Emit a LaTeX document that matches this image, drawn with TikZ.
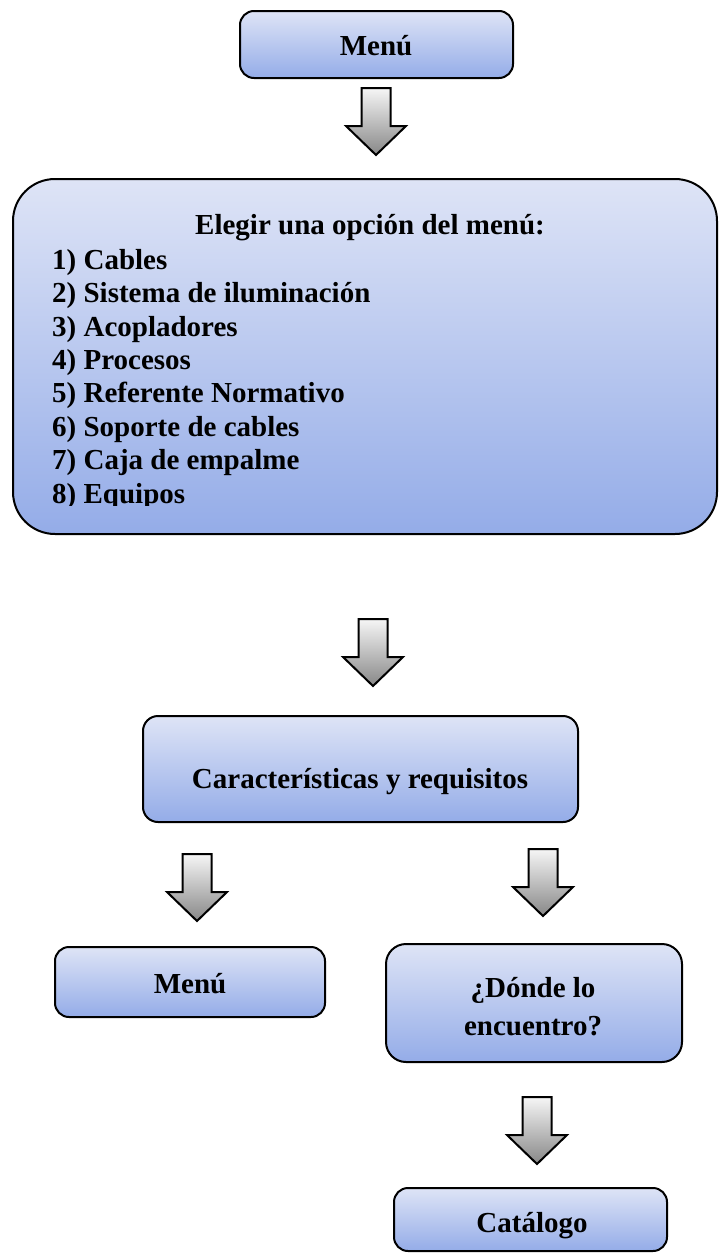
\documentclass[tikz,border=0pt]{standalone}
\usepackage{fontspec}
\setmainfont{Liberation Serif}
\definecolor{boxtop}{RGB}{222,228,246}
\definecolor{boxbot}{RGB}{148,172,232}
\definecolor{arrtop}{RGB}{246,246,246}
\definecolor{arrbot}{RGB}{135,135,135}
\tikzset{
  flowbox/.style={draw=black, line width=2pt, top color=boxtop, bottom color=boxbot,
    rounded corners=14pt, inner sep=0pt},
  lbl/.style={font=\fontsize{29}{33}\selectfont\bfseries, inner sep=0pt, anchor=base},
  lbll/.style={lbl, anchor=base west},
  blockarrow/.pic={
    \filldraw[draw=black, line width=2pt, top color=arrtop, bottom color=arrbot, line join=miter]
      (-14.5,0) -- (14.5,0) -- (14.5,38) -- (30,38) -- (0,67) -- (-30,38) -- (-14.5,38) -- cycle;
  }
}
\begin{document}
\begin{tikzpicture}[x=1pt, y=-1pt]
\useasboundingbox (0,0) rectangle (718,1253);

% boxes
\node[flowbox, minimum width=273pt, minimum height=67pt] (menu1) at (376.5,44.5) {};
\node[flowbox, rounded corners=42pt, minimum width=704pt, minimum height=355pt] (opts) at (365,356.5) {};
\node[flowbox, rounded corners=15pt, minimum width=435pt, minimum height=106pt] (carac) at (360.5,769) {};
\node[flowbox, minimum width=270pt, minimum height=70pt] (menu2) at (190,982) {};
\node[flowbox, rounded corners=20pt, minimum width=296pt, minimum height=118pt] (donde) at (534,1003) {};
\node[flowbox, minimum width=273pt, minimum height=63pt] (catal) at (530.5,1219.5) {};

% labels
\node[lbl] (tmenu1) at (376,55) {Menú};
\node[lbl] (thead) at (370,234) {Elegir una opción del menú:};
\begin{scope}
  \clip (0,0) rectangle (718,505.5);
  \node[lbll] (o1) at (52,269.2) {1) Cables};
  \node[lbll] (o2) at (52,302.6) {2) Sistema de iluminación};
  \node[lbll] (o3) at (52,336.0) {3) Acopladores};
  \node[lbll] (o4) at (52,369.4) {4) Procesos};
  \node[lbll] (o5) at (52,402.8) {5) Referente Normativo};
  \node[lbll] (o6) at (52,436.2) {6) Soporte de cables};
  \node[lbll] (o7) at (52,469.6) {7) Caja de empalme};
  \node[lbll] (o8) at (52,503.0) {8) Equipos};
\end{scope}
\node[lbl] (tcarac) at (360,788) {Características y requisitos};
\node[lbl] (tmenu2) at (190,993) {Menú};
\node[lbl] (tdonde1) at (533,997) {¿Dónde lo};
\node[lbl] (tdonde2) at (533,1035) {encuentro?};
\node[lbl] (tcatal) at (532,1232) {Catálogo};

% block arrows
\pic (a1) at (376,88) {blockarrow};
\pic (a2) at (373,619) {blockarrow};
\pic (a3) at (197,854) {blockarrow};
\pic (a4) at (543,849) {blockarrow};
\pic (a5) at (537,1097) {blockarrow};
\end{tikzpicture}
\end{document}
